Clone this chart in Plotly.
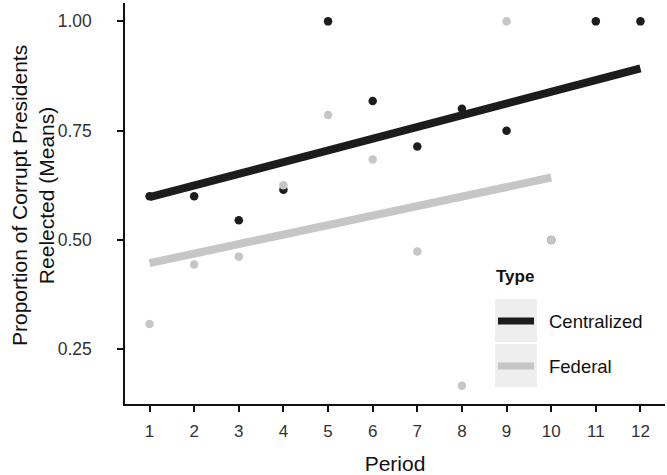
import numpy as np
import plotly.graph_objects as go

# Data
period_c = [1, 2, 3, 4, 5, 6, 7, 8, 9, 10, 11, 12]
centralized = [0.60, 0.60, 0.545, 0.615, 1.00, 0.818, 0.714, 0.80, 0.75, 0.50, 1.00, 1.00]
period_f = [1, 2, 3, 4, 5, 6, 7, 8, 9, 10]
federal = [0.308, 0.444, 0.462, 0.625, 0.786, 0.684, 0.474, 0.167, 1.00, 0.50]
x_ticks = list(range(1, 13))
y_ticks = [0.25, 0.50, 0.75, 1.00]
y_tick_labels = ["0.25", "0.50", "0.75", "1.00"]
series_names = ["Centralized", "Federal"]

BLACK = "#1c1c1c"
GRAY = "#c6c6c6"
FONT = "Liberation Sans, Arial, sans-serif"

def fit(x, y):
    b, a = np.polyfit(x, y, 1)
    xs = np.array([min(x), max(x)], dtype=float)
    return xs, a + b * xs

fig = go.Figure()
fig.add_trace(go.Scatter(x=period_c, y=centralized, mode="markers",
                         marker=dict(color=BLACK, size=8.5), showlegend=False))
xc, yc = fit(period_c, centralized)
xf, yf = fit(period_f, federal)
fig.add_trace(go.Scatter(x=xc, y=yc, mode="lines", line=dict(color=BLACK, width=8),
                         showlegend=False))
fig.add_trace(go.Scatter(x=xf, y=yf, mode="lines", line=dict(color=GRAY, width=8),
                         showlegend=False))
fig.add_trace(go.Scatter(x=period_f, y=federal, mode="markers",
                         marker=dict(color=GRAY, size=8.5), showlegend=False))

# manual legend and y title (paper coordinates)
px0, px1 = 125, 665
py0, py1 = 3, 404
def xp(p):
    return (p - px0) / (px1 - px0)
def yp(p):
    return (py1 - p) / (py1 - py0)

shapes = []
annotations = []
annotations.append(dict(x=xp(33), y=yp(196), xref="paper", yref="paper",
                        text="Proportion of Corrupt Presidents<br>Reelected (Means)",
                        textangle=-90, showarrow=False, xanchor="center", yanchor="middle",
                        font=dict(family=FONT, size=21, color="#111")))
annotations.append(dict(x=xp(494), y=yp(276), xref="paper", yref="paper", text="<b>Type</b>",
                        showarrow=False, xanchor="left", yanchor="middle",
                        font=dict(family=FONT, size=17, color="#111")))
for i, (name, col) in enumerate(zip(series_names, [BLACK, GRAY])):
    cy = 321 + i * 45
    shapes.append(dict(type="rect", xref="paper", yref="paper",
                       x0=xp(495), x1=xp(537), y0=yp(cy - 22), y1=yp(cy + 21),
                       fillcolor="#eeeeee", line=dict(width=0), layer="above"))
    shapes.append(dict(type="line", xref="paper", yref="paper",
                       x0=xp(498), x1=xp(534), y0=yp(cy), y1=yp(cy),
                       line=dict(color=col, width=7), layer="above"))
    annotations.append(dict(x=xp(547), y=yp(cy), xref="paper", yref="paper", text=name,
                            showarrow=False, xanchor="left", yanchor="middle",
                            font=dict(family=FONT, size=18.5, color="#111")))

fig.update_layout(
    width=667, height=475,
    margin=dict(l=125, r=2, t=3, b=71),
    plot_bgcolor="white", paper_bgcolor="white",
    font=dict(family=FONT, color="#222"),
    shapes=shapes, annotations=annotations,
    showlegend=False,
)
fig.update_xaxes(range=[0.45, 12.55], tickvals=x_ticks, ticks="outside", ticklen=6,
                 tickwidth=1.5, tickcolor="#111", showline=True, linecolor="#111",
                 linewidth=1.5, showgrid=False, zeroline=False, ticklabelstandoff=5,
                 tickfont=dict(family=FONT, size=17, color="#333"),
                 title=dict(text="Period", font=dict(family=FONT, size=21, color="#111"),
                            standoff=18))
fig.update_yaxes(range=[0.125, 1.042], tickvals=y_ticks, ticktext=y_tick_labels,
                 ticks="outside", ticklen=6, tickwidth=1.5, tickcolor="#111",
                 showline=True, linecolor="#111", linewidth=1.5, showgrid=False,
                 zeroline=False, ticklabelstandoff=22,
                 tickfont=dict(family=FONT, size=17.5, color="#333"))

fig.write_html("out.html", config={"displayModeBar": False},
               post_script="document.body.style.margin='0';")
